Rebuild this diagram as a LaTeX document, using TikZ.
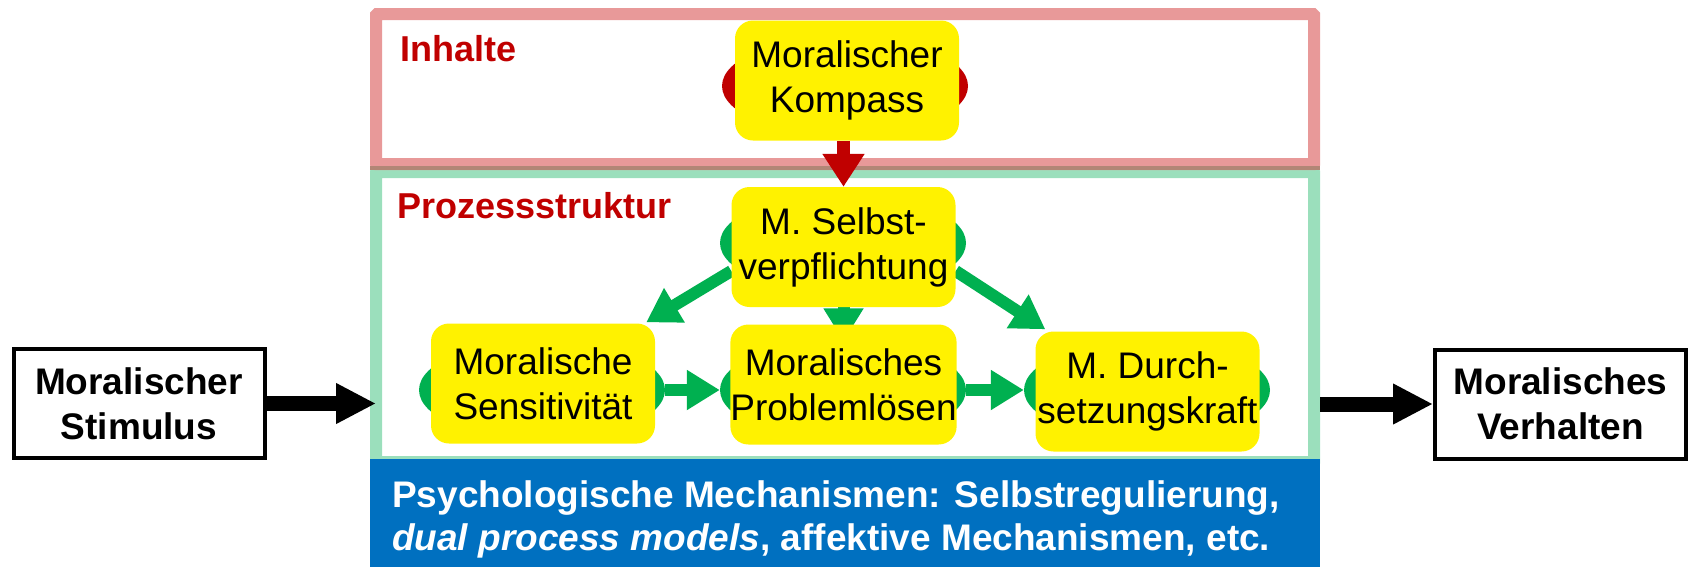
\documentclass[tikz,border=0pt]{standalone}
\usepackage{fontspec}
\setmainfont{Liberation Sans}
\usetikzlibrary{shapes.geometric,arrows.meta,calc}

\definecolor{rahmenrot}{RGB}{232,153,153}
\definecolor{rahmengruen}{RGB}{155,223,188}
\definecolor{naht}{RGB}{178,134,118}
\definecolor{mblau}{RGB}{0,112,192}
\definecolor{mgruen}{RGB}{0,176,80}
\definecolor{mrot}{RGB}{192,0,0}

\pgfdeclarelayer{rahmen}
\pgfdeclarelayer{pfeile}
\pgfsetlayers{rahmen,pfeile,main}

\tikzset{
  feld/.style={line width=12pt, minimum width=938pt, inner sep=0pt, outer sep=0pt, rounded corners=1pt},
  baustein/.style={fill=yellow, rounded corners=18pt, minimum width=224pt, minimum height=120pt, inner sep=0pt, align=center, font=\fontsize{37}{45}\selectfont},
  hof/.style={ellipse, minimum width=246pt, minimum height=100pt, inner sep=0pt},
  aussen/.style={draw, fill=white, line width=4pt, minimum width=251pt, minimum height=109pt, inner sep=0pt, align=center, font=\bfseries\fontsize{37}{45}\selectfont},
  titel/.style={text=mrot, font=\bfseries\fontsize{36}{43}\selectfont, anchor=base west, inner sep=0pt},
  gpfeil/.style={draw=mgruen, line width=12pt, -{Triangle[length=33pt,width=38pt]}},
  rpfeil/.style={draw=mrot, line width=13pt, -{Triangle[length=33pt,width=40pt]}},
  spfeil/.style={draw=black, line width=15pt, -{Triangle[length=40pt,width=38pt]}}
}

\begin{document}
\begin{tikzpicture}[x=1pt,y=-1pt]
  \useasboundingbox (0,0) rectangle (1694,566);
  % Frames and the blue band
  \begin{pgfonlayer}{rahmen}
    \node[feld, draw=rahmengruen, minimum height=290pt] (prozess) at (845,317) {};
    \node[feld, draw=rahmenrot, minimum height=150pt] (inhalte) at (845,89) {};
    \fill[naht] ($(prozess.north west)+(-6,-6)$) rectangle ($(inhalte.south east)+(6,6)$);
    \node[fill=mblau, minimum width=950pt, minimum height=108pt, inner sep=0pt, outer sep=0pt, anchor=north west] (mech) at (370,459) {};
  \end{pgfonlayer}
  % Section titles
  \node[titel] (inhaltetitel) at (400,61) {Inhalte};
  \node[titel] (prozesstitel) at (397,218) {Prozessstruktur};
  % Ellipses behind the boxes
  \node[hof, fill=mrot] (kompassbg) at (845,86) {};
  \node[hof, fill=mgruen] (selbstbg) at (843,243) {};
  \node[hof, fill=mgruen] (sensbg) at (542,390) {};
  \node[hof, fill=mgruen] (probbg) at (843,390) {};
  \node[hof, fill=mgruen] (durchbg) at (1147,390) {};
  % The yellow boxes
  \node[baustein] (kompass) at (847,80.5) {Moralischer\\Kompass};
  \node[baustein] (selbst) at (843.5,247) {M. Selbst-\\verpflichtung};
  \node[baustein] (sens) at (543,383.5) {Moralische\\Sensitivit\"at};
  \node[baustein] (prob) at (843.5,384.5) {Moralisches\\Probleml\"osen};
  \node[baustein] (durch) at (1147.5,391.5) {M. Durch-\\setzungskraft};
  % Input and output
  \node[aussen] (stimulus) at (139,403.5) {Moralischer\\Stimulus};
  \node[aussen] (verhalten) at (1560.5,404) {Moralisches\\Verhalten};
  % Mechanisms text
  \node[anchor=north west, inner sep=0pt, align=left, text=white, font=\bfseries\fontsize{37}{43}\selectfont] (mechtext) at (392,480) {Psychologische Mechanismen: Selbstregulierung,\\\textit{dual process models}, affektive Mechanismen, etc.};
  % Arrows
  \begin{pgfonlayer}{pfeile}
    \draw[rpfeil] (selbst.north |- kompass.south) -- (selbst.north);
    \draw[gpfeil] ($(selbst.west)+(0,24)$) -- ($(sens.north east)+(-9,-1)$);
    \draw[gpfeil] ($(selbst.east)+(0,24)$) -- ($(durch.north west)+(10,-2)$);
    \draw[gpfeil] (selbst.south) -- ($(prob.north)+(0,17)$);
    \draw[gpfeil] (sensbg.east) -- (probbg.west);
    \draw[gpfeil] (probbg.east) -- (durchbg.west);
    \draw[spfeil] (stimulus.east) -- (stimulus.east -| prozess.west);
    \draw[spfeil] ($(verhalten.west -| prozess.east)+(6,0)$) -- (verhalten.west);
  \end{pgfonlayer}
\end{tikzpicture}
\end{document}
